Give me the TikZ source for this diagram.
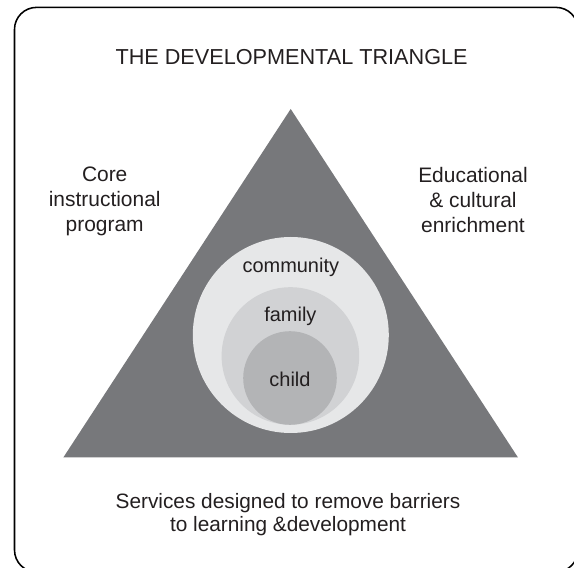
\documentclass[tikz,border=0pt]{standalone}
\usepackage{fontspec}
\setmainfont{Liberation Sans}
\definecolor{triangrey}{HTML}{77787B}
\definecolor{communitygrey}{HTML}{E6E7E8}
\definecolor{familygrey}{HTML}{D1D2D4}
\definecolor{childgrey}{HTML}{B3B4B6}
\definecolor{inktext}{HTML}{231F20}

\begin{document}
\begin{tikzpicture}[auto,
    ring/.style ={circle, inner sep=0pt},
    sidetext/.style ={align=center, text=inktext, font=\fontsize{14.9}{17.8}\selectfont},
    ringtext/.style ={anchor=base, text=inktext, font=\fontsize{14.2}{17}\selectfont}]
   \useasboundingbox (0,0) rectangle (14.35,14.175);
   \draw[line width=1.1pt, rounded corners=0.55cm] (0.3625,-0.125) rectangle (14.45,13.99);
   % the triangle
   \coordinate (top)   at (7.2675,11.45);
   \coordinate (left)  at (1.5825,2.7375);
   \coordinate (right) at (12.95,2.7375);
   \fill[triangrey] (top) -- (right) -- (left) -- cycle;
   % circles
   \node[ring, fill=communitygrey, minimum size=4.9cm]  (community) at (7.27,5.8)   {};
   \node[ring, fill=familygrey,    minimum size=3.44cm] (family)    at (7.26,5.275) {};
   \node[ring, fill=childgrey,     minimum size=2.34cm] (child)     at (7.25,4.725) {};
   \node[ringtext] (communitytext) at (7.27,7.3675) {community};
   \node[ringtext] (familytext)    at (7.26,6.1325) {family};
   \node[ringtext] (childtext)     at (7.25,4.5075) {child};
   % texts
   \node[anchor=base, text=inktext, font=\fontsize{15.4}{18}\selectfont] (title) at (7.29,12.5675) {THE DEVELOPMENTAL TRIANGLE};
   \node[sidetext] (core)     at (2.6175,9.1425) {Core\\instructional\\program};
   \node[sidetext] (enrich)   at (11.825,9.175)  {Educational\\\& cultural\\enrichment};
   \node[sidetext, font=\fontsize{14.8}{16.7}\selectfont] (services) at (7.2,1.31) {Services designed to remove barriers\\to learning \&development};
 \end{tikzpicture}
\end{document}
